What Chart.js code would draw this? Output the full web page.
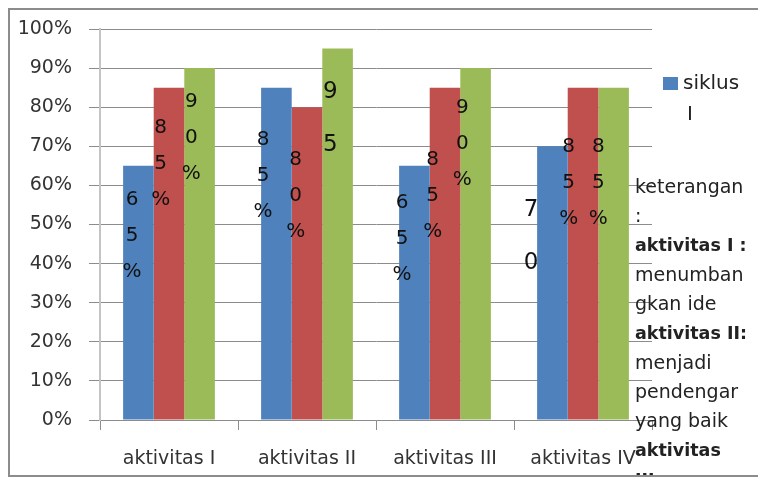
<!doctype html>
<html lang="id">
<head>
  <meta charset="utf-8" />
  <title>siklus</title>
  <script src="https://cdn.jsdelivr.net/npm/chart.js@4.4.0/dist/chart.umd.min.js"></script>
  <style>
    body { margin: 0; background: #fff; }
  </style>
</head>
<body>
<canvas id="myChart" width="758" height="478"></canvas>

<script>
var categories = ['aktivitas I', 'aktivitas II', 'aktivitas III', 'aktivitas IV'];
var seriesNames = ['siklus I', 'siklus II', 'siklus III'];
var siklus1 = [65, 85, 65, 70];
var siklus2 = [85, 80, 85, 85];
var siklus3 = [90, 95, 90, 85];
var yMax = 100;
var yStep = 10;
var keterangan = [
  ['keterangan', false],
  [':', false],
  ['aktivitas I :', true],
  ['menumban', false],
  ['gkan ide', false],
  ['aktivitas II:', true],
  ['menjadi', false],
  ['pendengar', false],
  ['yang baik', false],
  ['aktivitas', true],
  ['III: mau', true]
];
</script>

<script>
var FONT = '"DejaVu Sans", sans-serif';
var colors = ['#4F81BD', '#C0504D', '#9BBB59'];

// label nudges [dx from bar left, dy of first char from bar top], per dataset / category
var labelNudge = [
  [[8, 34], [1, 52], [2, 37], [-7, 64]],
  [[6, 40], [3, 53], [2, 72], [0, 59]],
  [[6, 34], [7, 43], [1, 40], [-1, 59]]
];
// labels that came out bigger and lost their '%'
var bigLabel = { '2-1': true, '0-3': true };

var barLabels = {
  id: 'barLabels',
  afterDatasetsDraw: function (chart) {
    var ctx = chart.ctx;
    ctx.save();
    ctx.fillStyle = '#111';
    ctx.textAlign = 'center';
    ctx.textBaseline = 'middle';
    chart.data.datasets.forEach(function (ds, d) {
      var meta = chart.getDatasetMeta(d);
      meta.data.forEach(function (bar, i) {
        var big = bigLabel[d + '-' + i];
        var chars = (ds.data[i] + '%').split('');
        if (big) chars = chars.slice(0, 2);
        var gap = big ? 53 : 36;
        ctx.font = (big ? 23 : 20) + 'px ' + FONT;
        var left = bar.x - bar.width / 2;
        var nx = labelNudge[d][i][0], ny = labelNudge[d][i][1];
        for (var k = 0; k < chars.length; k++) {
          ctx.fillText(chars[k], left + nx + 1, bar.y + ny + k * gap);
        }
      });
    });
    ctx.restore();
  }
};

var sideText = {
  id: 'sideText',
  afterDraw: function (chart) {
    var ctx = chart.ctx;
    var area = chart.chartArea;
    ctx.save();
    // legend: only the first series shows
    ctx.fillStyle = colors[0];
    ctx.fillRect(area.right + 11, area.top + 48, 15, 13);
    ctx.fillStyle = '#222';
    ctx.textAlign = 'left';
    ctx.textBaseline = 'middle';
    ctx.font = '20px ' + FONT;
    var name = seriesNames[0].split(' ');
    ctx.fillText(name[0], area.right + 31, area.top + 55);
    ctx.fillText(name[1], area.right + 35, area.top + 86);

    // keterangan text box, cut by the frame
    ctx.beginPath();
    ctx.rect(0, 0, 758, 475);
    ctx.clip();
    for (var k = 0; k < keterangan.length; k++) {
      ctx.font = keterangan[k][1] ? 'bold 17.5px ' + FONT : '19px ' + FONT;
      ctx.fillText(keterangan[k][0], area.right - 17, 188 + k * 29.3);
    }
    ctx.restore();

    // outer frame
    ctx.save();
    ctx.strokeStyle = '#8c8c8c';
    ctx.lineWidth = 2;
    ctx.strokeRect(9, 9, 800, 467);
    ctx.restore();
  }
};

function Draw() {
  const ctx = document.getElementById('myChart');
  const myChart = new Chart(ctx, {
    type: 'bar',
    data: {
      labels: categories,
      datasets: [
        { label: seriesNames[0], data: siklus1, backgroundColor: colors[0] },
        { label: seriesNames[1], data: siklus2, backgroundColor: colors[1] },
        { label: seriesNames[2], data: siklus3, backgroundColor: colors[2] }
      ]
    },
    options: {
      responsive: false,
      animation: false,
      devicePixelRatio: 1,
      layout: { padding: { left: 10, right: 106, top: 29, bottom: 0 } },
      datasets: { bar: { barPercentage: 1, categoryPercentage: 0.665 } },
      plugins: {
        legend: { display: false },
        tooltip: { enabled: false }
      },
      scales: {
        x: {
          afterFit: function (scale) { scale.height = 58; },
          grid: { offset: true, drawOnChartArea: false, tickLength: 10, color: '#8c8c8c', lineWidth: 1 },
          border: { color: '#8c8c8c', width: 1 },
          ticks: { color: '#333', padding: 18, font: { family: FONT, size: 19 } }
        },
        y: {
          min: 0,
          max: yMax,
          afterFit: function (scale) { scale.width = 90; },
          grid: { color: '#8c8c8c', lineWidth: 1, tickLength: 11 },
          border: { color: '#c4c4c4', width: 2 },
          ticks: {
            stepSize: yStep,
            color: '#333',
            padding: 17,
            font: { family: FONT, size: 19 },
            callback: function (v) { return v + '%'; }
          }
        }
      }
    },
    plugins: [barLabels, sideText]
  });
}
Draw();
</script>
</body>
</html>
